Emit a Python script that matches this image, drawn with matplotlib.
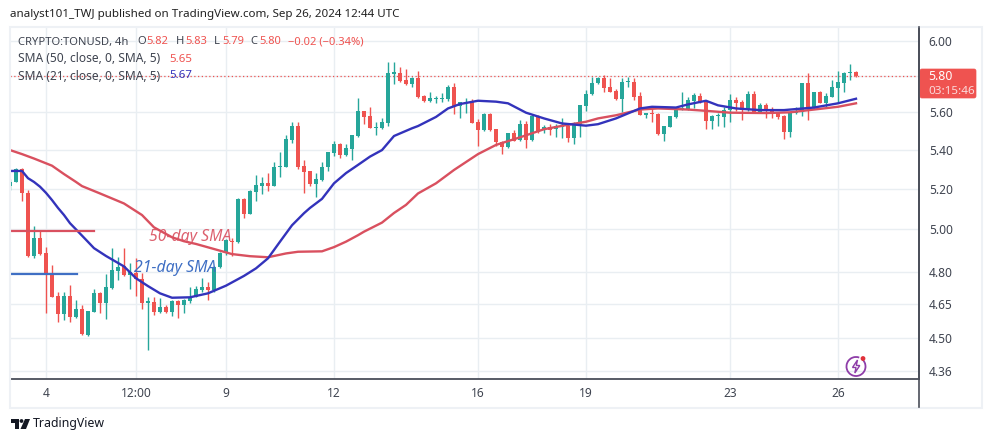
import numpy as np
import matplotlib
matplotlib.use("Agg")
import matplotlib.pyplot as plt
from matplotlib.patches import FancyBboxPatch, Rectangle, Circle, Polygon, Arc

W, H = 991, 442
FONT = "Noto Sans"

# candle series (O, H, L, C), 4h bars
candles = [
(5.215,5.25,5.194,5.237),(5.237,5.305,5.233,5.30),(5.30,5.305,5.14,5.177),(5.177,5.194,4.87,4.873),
(4.873,5.016,4.862,4.957),(4.957,4.994,4.877,4.882),(4.885,4.917,4.613,4.789),(4.789,4.831,4.682,4.685),
(4.688,4.707,4.573,4.607),(4.607,4.707,4.58,4.688),(4.688,4.736,4.573,4.595),(4.595,4.67,4.588,4.628),
(4.628,4.648,4.514,4.517),(4.514,4.622,4.511,4.619),(4.617,4.718,4.614,4.70),(4.70,4.707,4.61,4.658),
(4.658,4.789,4.583,4.727),(4.724,4.909,4.718,4.808),(4.805,4.87,4.761,4.82),(4.824,4.909,4.78,4.785),
(4.786,4.839,4.718,4.797),(4.792,4.862,4.688,4.767),(4.767,4.792,4.628,4.658),(4.658,4.685,4.449,4.661),
(4.661,4.685,4.603,4.616),(4.616,4.678,4.613,4.637),(4.637,4.648,4.613,4.616),(4.616,4.67,4.598,4.663),
(4.663,4.67,4.591,4.648),(4.649,4.673,4.61,4.67),(4.667,4.727,4.658,4.685),(4.685,4.733,4.682,4.718),
(4.715,4.769,4.707,4.727),(4.728,4.753,4.67,4.715),(4.715,4.824,4.707,4.82),(4.82,4.893,4.816,4.885),
(4.885,4.955,4.878,4.949),(4.946,4.957,4.873,4.937),(4.937,5.156,4.933,5.149),(5.149,5.153,5.054,5.075),
(5.075,5.196,5.075,5.189),(5.186,5.27,5.141,5.22),(5.216,5.262,5.172,5.228),(5.228,5.282,5.191,5.216),
(5.216,5.339,5.214,5.311),(5.31,5.39,5.262,5.318),(5.313,5.478,5.313,5.457),(5.452,5.549,5.434,5.526),
(5.526,5.549,5.30,5.31),(5.316,5.347,5.181,5.287),(5.291,5.293,5.214,5.225),(5.225,5.279,5.16,5.25),
(5.245,5.335,5.242,5.311),(5.31,5.39,5.293,5.389),(5.385,5.449,5.368,5.431),(5.431,5.438,5.36,5.371),
(5.373,5.429,5.37,5.408),(5.404,5.478,5.347,5.478),(5.473,5.68,5.466,5.606),(5.606,5.608,5.536,5.575),
(5.579,5.63,5.514,5.516),(5.516,5.549,5.478,5.521),(5.516,5.567,5.512,5.546),(5.545,5.878,5.526,5.815),
(5.813,5.88,5.755,5.819),(5.815,5.85,5.767,5.772),(5.778,5.84,5.75,5.754),(5.756,5.793,5.737,5.787),
(5.789,5.828,5.68,5.685),(5.689,5.693,5.658,5.663),(5.663,5.713,5.656,5.676),(5.671,5.689,5.652,5.674),
(5.673,5.704,5.654,5.676),(5.673,5.752,5.663,5.741),(5.741,5.759,5.59,5.634),(5.634,5.654,5.568,5.654),
(5.652,5.676,5.594,5.656),(5.658,5.671,5.54,5.544),(5.548,5.562,5.42,5.505),(5.505,5.594,5.501,5.59),
(5.59,5.594,5.50,5.505),(5.509,5.51,5.42,5.441),(5.443,5.449,5.378,5.417),(5.413,5.491,5.41,5.487),
(5.487,5.505,5.445,5.449),(5.452,5.558,5.449,5.536),(5.536,5.554,5.408,5.452),(5.452,5.584,5.449,5.579),
(5.579,5.584,5.487,5.496),(5.505,5.531,5.487,5.519),(5.519,5.536,5.478,5.505),(5.509,5.536,5.466,5.526),
(5.521,5.567,5.461,5.531),(5.526,5.536,5.443,5.464),(5.464,5.549,5.431,5.536),(5.536,5.638,5.466,5.638),
(5.635,5.722,5.606,5.698),(5.698,5.796,5.695,5.763),(5.759,5.796,5.756,5.789),(5.789,5.806,5.713,5.735),
(5.739,5.787,5.709,5.713),(5.718,5.726,5.667,5.671),(5.673,5.787,5.603,5.767),(5.767,5.796,5.741,5.769),
(5.767,5.787,5.667,5.685),(5.689,5.709,5.585,5.587),(5.587,5.598,5.567,5.594),(5.598,5.621,5.549,5.592),
(5.59,5.594,5.477,5.484),(5.484,5.526,5.449,5.524),(5.523,5.581,5.523,5.579),(5.573,5.63,5.57,5.617),
(5.615,5.713,5.612,5.626),(5.615,5.685,5.612,5.667),(5.663,5.704,5.626,5.693),(5.691,5.704,5.649,5.654),
(5.654,5.667,5.51,5.554),(5.554,5.584,5.512,5.579),(5.581,5.594,5.526,5.584),(5.575,5.63,5.523,5.615),
(5.615,5.70,5.549,5.667),(5.667,5.685,5.608,5.652),(5.656,5.667,5.558,5.612),(5.612,5.718,5.608,5.70),
(5.70,5.715,5.594,5.598),(5.601,5.649,5.598,5.638),(5.638,5.652,5.57,5.612),(5.615,5.63,5.568,5.589),
(5.594,5.603,5.562,5.575),(5.581,5.584,5.457,5.496),(5.496,5.603,5.47,5.598),(5.594,5.63,5.59,5.606),
(5.603,5.763,5.581,5.763),(5.763,5.815,5.558,5.63),(5.63,5.713,5.626,5.713),(5.713,5.716,5.649,5.652),
(5.649,5.704,5.626,5.689),(5.685,5.778,5.682,5.739),(5.735,5.828,5.649,5.765),(5.763,5.824,5.713,5.817),
(5.815,5.867,5.778,5.819),(5.82,5.828,5.793,5.80),
]
bars = np.array(candles)
open_, high, low, close = bars.T
idx = np.arange(len(bars))

sma50_idx = [0,2,4,7,9,11,12,15,17,19,22,24,27,29,31,34,37,40,43,46,48,52,54,56,58,59,62,64,66,68,71,74,78,81,85,89,93,96,98,101,105,108,113,116,120,126,130,134,138,141]
sma50_val = [5.399,5.378,5.355,5.318,5.275,5.235,5.214,5.177,5.152,5.127,5.07,5.01,4.962,4.943,4.93,4.906,4.882,4.872,4.867,4.885,4.893,4.895,4.915,4.941,4.972,4.989,5.033,5.08,5.12,5.177,5.228,5.296,5.378,5.426,5.466,5.509,5.533,5.549,5.567,5.584,5.615,5.621,5.615,5.608,5.598,5.596,5.60,5.615,5.63,5.649]
sma21_idx = [0,2,3,4,5,6,7,8,9,10,11,12,13,14,16,19,21,23,25,27,30,33,36,39,41,43,45,47,49,50,52,54,56,58,60,62,64,67,68,71,73,75,78,81,83,86,89,92,96,98,101,105,107,111,113,116,118,121,125,129,134,138,141]
sma21_val = [5.291,5.291,5.254,5.235,5.211,5.18,5.144,5.105,5.07,5.03,5.0,4.97,4.94,4.91,4.873,4.824,4.769,4.733,4.70,4.68,4.682,4.70,4.735,4.78,4.815,4.862,4.941,5.02,5.079,5.105,5.15,5.228,5.28,5.322,5.365,5.399,5.473,5.514,5.526,5.575,5.621,5.645,5.663,5.658,5.649,5.598,5.567,5.54,5.528,5.536,5.567,5.621,5.63,5.626,5.643,5.663,5.638,5.621,5.612,5.612,5.626,5.649,5.674]

price_ticks = [6.00,5.80,5.60,5.40,5.20,5.00,4.80,4.65,4.50,4.36]
price_labels = ["6.00","","5.60","5.40","5.20","5.00","4.80","4.65","4.50","4.36"]
date_idx = [6,21,36,54,78,96,120,138]
date_labels = ["4","12:00","9","12","16","19","23","26"]
ma50_drawn_price = 4.99
ma21_drawn_price = 4.79
last_price = 5.80

UP, DOWN = "#26a69a", "#ef5350"
TXT = "#3f4450"
GRID = "#e9eef2"
AXC = "#4a4e59"
BLUE = "#3333bb"
RED = "#d9505f"

fig = plt.figure(figsize=(W/100, H/100), dpi=100, facecolor="white")

# full-figure overlay in pixels for annotations and furniture
ov = fig.add_axes([0,0,1,1], zorder=5)
ov.set_xlim(0,W); ov.set_ylim(H,0); ov.axis("off"); ov.patch.set_alpha(0)

L,R,T,B = 10,919,27,379
ax = fig.add_axes([L/W, 1-B/H, (R-L)/W, (B-T)/H], zorder=2)
ax.set_yscale("log")
ax.set_xlim(0,151.5)
ax.set_ylim(4.326,6.082)
ax.minorticks_off()
ax.yaxis.tick_right()
ax.set_yticks(price_ticks); ax.set_yticklabels(price_labels)
ax.yaxis.set_minor_locator(matplotlib.ticker.NullLocator())
ax.set_xticks(date_idx); ax.set_xticklabels(date_labels)
ax.tick_params(axis="both", length=0, labelsize=8.6, labelcolor=TXT, labelfontfamily=FONT)
ax.tick_params(axis="y", pad=7)
ax.tick_params(axis="x", pad=6)
ax.grid(True, color=GRID, lw=1)
ax.set_axisbelow(True)
for s in ["top","left"]:
    ax.spines[s].set_visible(False)
for s in ["right","bottom"]:
    ax.spines[s].set_color(AXC); ax.spines[s].set_linewidth(1.3)

ax.axhline(last_price, color=DOWN, lw=0.9, ls=(0,(1,2)), zorder=2)

col = np.where(close>=open_, UP, DOWN)
ax.vlines(idx, low, high, colors=col, lw=1.0, zorder=3)
bot = np.minimum(open_,close); top = np.maximum(open_,close)
top = np.where(top/bot<1.0012, bot*1.0012, top)
ax.bar(idx, top-bot, bottom=bot, width=0.82, color=col, lw=0, zorder=3)

ax.plot(sma50_idx, sma50_val, color=RED, lw=1.7, zorder=4, solid_joinstyle="round")
ax.plot(sma21_idx, sma21_val, color=BLUE, lw=1.7, zorder=4.5, solid_joinstyle="round")

# hand-drawn annotations
ax.plot([0,14], [ma50_drawn_price]*2, color=RED, lw=1.6, zorder=5)
ax.plot([0,11.2], [ma21_drawn_price]*2, color="#3f6fc4", lw=1.6, zorder=5)
ov.text(149,237,"50-day SMA",color="#d9505f",fontsize=11.4,style="italic",family=FONT,va="center",ha="left",alpha=.9)
ov.text(134,268,"21-day SMA",color="#3f6fc4",fontsize=11.4,style="italic",family=FONT,va="center",ha="left")

# panel outline
ov.add_patch(Rectangle((9.5,26.5),972,381,fill=False,ec="#eef1f5",lw=1.5))
ov.plot([919,919],[27,407],color=AXC,lw=1.2)

# price label
ov.add_patch(FancyBboxPatch((920,69),56,29,boxstyle="round,pad=0,rounding_size=2",fc=DOWN,ec=DOWN,lw=.5))
ov.text(928,77,"5.80",color="white",fontsize=8.8,family=FONT,va="center",ha="left")
ov.text(928,91,"03:15:46",color="#fbdada",fontsize=8.4,family=FONT,va="center",ha="left")

# header text
ov.text(10,14.5,"analyst101_TWJ published on TradingView.com, Sep 26, 2024 12:44 UTC",color="#222",fontsize=8.35,family=FONT,va="center")
y0 = 42
ov.text(18,y0,"CRYPTO:TONUSD, 4h",color=TXT,fontsize=8.1,family=FONT,va="center")
for x,s,c in [(137,"O",TXT),(146,"5.82",DOWN),(176,"H",TXT),(185,"5.83",DOWN),(214,"L",TXT),(222,"5.79",DOWN),(250,"C",TXT),(259,"5.80",DOWN),(288,"−0.02 (−0.34%)",DOWN)]:
    ov.text(x,y0,s,color=c,fontsize=8.05,family=FONT,va="center")
ov.text(18,59,"SMA (50, close, 0, SMA, 5)",color=TXT,fontsize=8.65,family=FONT,va="center")
ov.text(169,59,"5.65",color=DOWN,fontsize=8.3,family=FONT,va="center")
ov.text(18,76,"SMA (21, close, 0, SMA, 5)",color=TXT,fontsize=8.65,family=FONT,va="center")
ov.text(169,76,"5.67",color=BLUE,fontsize=8.3,family=FONT,va="center")

# lightning badge
PUR = "#8e3da8"
ov.add_patch(Arc((856,366.5),19,19,theta1=-50,theta2=290,ec=PUR,lw=1.3))
ov.add_patch(Polygon([(857.5,360),(852.5,367.5),(856,367.5),(854.8,373),(859.8,365.5),(856.3,365.5)],fc="none",ec=PUR,lw=1))
ov.add_patch(Circle((863,358.5),2.4,fc="#e0303a",ec="none"))

# TradingView logo
ov.add_patch(Polygon([(11,419),(19,419),(19,429),(15,429),(15,423),(11,423)],fc="#131722",ec="none"))
ov.add_patch(Circle((21.5,421),1.9,fc="#131722",ec="none"))
ov.add_patch(Polygon([(25,419),(30,419),(26,429),(20.5,429)],fc="#131722",ec="none"))
ov.text(33,424,"TradingView",color="#131722",fontsize=8.85,family=FONT,va="center")

fig.savefig("out.png",dpi=100,facecolor="white")
